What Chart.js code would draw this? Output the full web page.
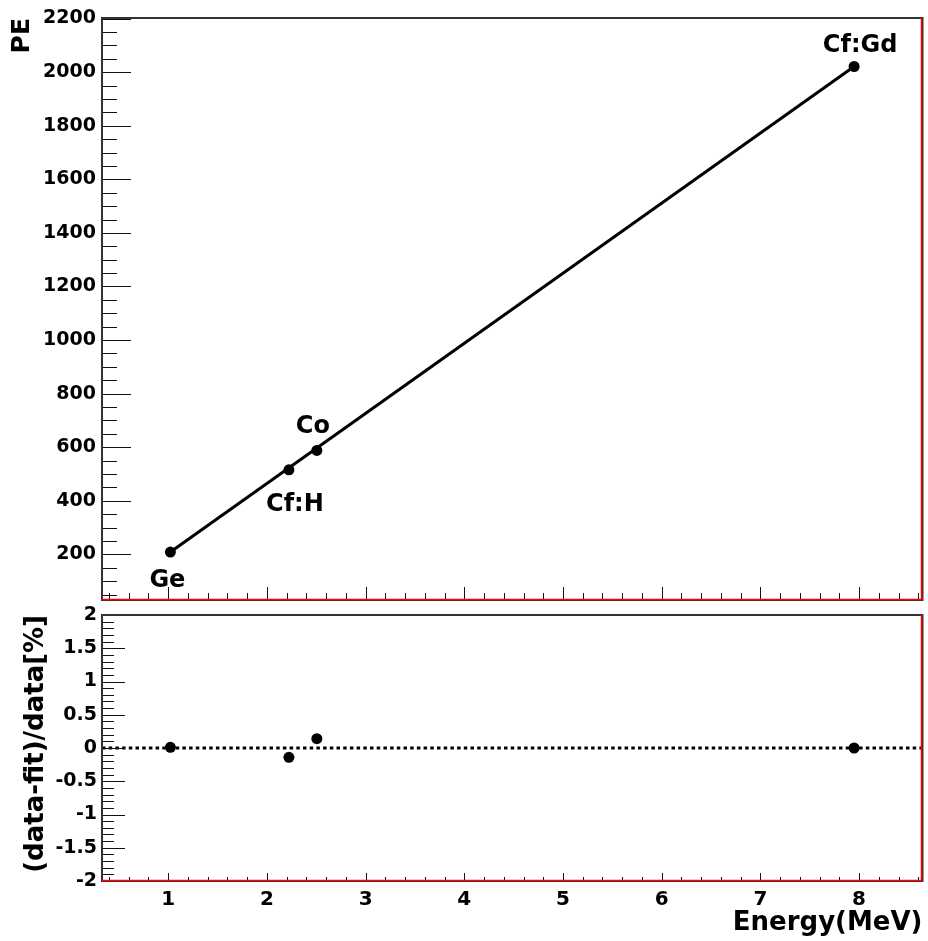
<!DOCTYPE html>
<html>
<head>
<meta charset="utf-8">
<script src="https://cdn.jsdelivr.net/npm/chart.js@4.4.0/dist/chart.umd.min.js"></script>
<style>
  body { margin: 0; background: #fff; }
  #wrap { position: relative; width: 928px; height: 941px; }
  .pane { position: absolute; left: 0; width: 928px; }
  #top { top: 0; height: 606px; }
  #bottom { top: 590px; height: 351px; }
</style>
</head>
<body>
<div id="wrap">
  <div class="pane" id="top"><canvas id="peChart"></canvas></div>
  <div class="pane" id="bottom"><canvas id="resChart"></canvas></div>
</div>
<script>
// calibration sources
const sources = ['Ge', 'Cf:H', 'Co', 'Cf:Gd'];
const energy = [1.022, 2.223, 2.506, 7.95];     // MeV
const pe = [209, 516, 588, 2021];
const residual = [0.01, -0.14, 0.14, 0.0];      // (data-fit)/data in %

// linear fit, end points
const fitEnergy = [1.022, 7.95];
const fitPE = [209, 2021];

// zero reference line of the residual pad
const zeroEnergy = [0.329, 8.643];
const zeroRes = [0, 0];

const energyRange = [0.329, 8.643];
const peRange = [30, 2202];
const resRange = [-2, 2];

const energyTicks = [1, 2, 3, 4, 5, 6, 7, 8];
const peTicks = [200, 400, 600, 800, 1000, 1200, 1400, 1600, 1800, 2000, 2200];
const resTicks = [-2, -1.5, -1, -0.5, 0, 0.5, 1, 1.5, 2];

Chart.defaults.font.family = '"DejaVu Sans", sans-serif';
Chart.defaults.font.weight = 'bold';
Chart.defaults.color = '#000';

const pts = (xs, ys) => xs.map((v, i) => ({x: v, y: ys[i]}));

// ROOT style frame: inward ticks, dark frame, red bottom/right edge
const rootFrame = {
  id: 'rootFrame',
  afterDatasetsDraw(chart, args, o) {
    const {ctx, chartArea: a, scales: {x, y}} = chart;
    ctx.save();
    ctx.strokeStyle = '#111';
    ctx.lineWidth = 1;
    ctx.beginPath();
    let i0 = Math.ceil(x.min / o.xStep - 1e-6);
    for (let i = i0; i * o.xStep <= x.max + 1e-9; i++) {
      const px = Math.round(x.getPixelForValue(i * o.xStep)) + 0.5;
      const len = i % o.xPer === 0 ? o.xMajor : o.xMinor;
      ctx.moveTo(px, a.bottom);
      ctx.lineTo(px, a.bottom - len);
    }
    i0 = Math.ceil(y.min / o.yStep - 1e-6);
    for (let i = i0; i * o.yStep <= y.max + 1e-9; i++) {
      const py = Math.round(y.getPixelForValue(i * o.yStep)) + 0.5;
      const len = i % o.yPer === 0 ? o.yMajor : o.yMinor;
      ctx.moveTo(a.left, py);
      ctx.lineTo(a.left + len, py);
    }
    ctx.stroke();
    ctx.strokeStyle = '#333';
    ctx.lineWidth = 2;
    ctx.strokeRect(a.left, a.top, a.right - a.left, a.bottom - a.top);
    ctx.strokeStyle = '#f00';
    ctx.lineWidth = 1.5;
    ctx.beginPath();
    ctx.moveTo(a.left, a.bottom - 0.5);
    ctx.lineTo(a.right - 1, a.bottom - 0.5);
    ctx.lineTo(a.right - 1, a.top);
    ctx.stroke();
    ctx.restore();
  }
};

// source names next to the points
const labelOffsets = [[-3, 35], [6, 41], [-4, -17], [6, -15]];
const sourceLabels = {
  id: 'sourceLabels',
  afterDatasetsDraw(chart) {
    const {ctx, scales: {x, y}} = chart;
    ctx.save();
    ctx.font = 'bold 24px "DejaVu Sans"';
    ctx.fillStyle = '#000';
    ctx.textAlign = 'center';
    ctx.textBaseline = 'alphabetic';
    sources.forEach((s, i) => {
      const px = x.getPixelForValue(energy[i]);
      const py = y.getPixelForValue(pe[i]);
      ctx.fillText(s, px + labelOffsets[i][0], py + labelOffsets[i][1]);
    });
    ctx.restore();
  }
};

const noGrid = {display: false, drawTicks: false};

new Chart(document.getElementById('peChart'), {
  type: 'scatter',
  data: {
    datasets: [
      {
        label: 'data',
        data: pts(energy, pe),
        pointRadius: 5.5,
        pointBackgroundColor: '#000',
        pointBorderWidth: 0
      },
      {
        label: 'fit',
        data: pts(fitEnergy, fitPE),
        showLine: true,
        borderColor: '#000',
        borderWidth: 3,
        pointRadius: 0
      }
    ]
  },
  options: {
    responsive: true,
    maintainAspectRatio: false,
    animation: false,
    layout: {padding: {top: 18, right: 2, left: 0, bottom: 0}},
    plugins: {
      legend: {display: false},
      tooltip: {enabled: false},
      rootFrame: {xStep: 0.2, xPer: 5, xMajor: 13, xMinor: 7, yStep: 50, yPer: 4, yMajor: 29, yMinor: 15}
    },
    scales: {
      x: {
        type: 'linear',
        min: energyRange[0],
        max: energyRange[1],
        grid: noGrid,
        border: {display: false},
        ticks: {display: false},
        afterFit: s => { s.height = 6; s.paddingLeft = 0; s.paddingRight = 0; }
      },
      y: {
        min: peRange[0],
        max: peRange[1],
        afterBuildTicks: s => { s.ticks = peTicks.map(v => ({value: v})); },
        grid: noGrid,
        border: {display: false},
        ticks: {font: {size: 19}, padding: 6, autoSkip: false, callback: v => String(v)},
        title: {display: true, text: 'PE', align: 'end', font: {size: 25}, padding: {top: 7, bottom: 0}},
        afterFit: s => { s.width = 102; s.paddingTop = 0; s.paddingBottom = 0; }
      }
    }
  },
  plugins: [rootFrame, sourceLabels]
});

new Chart(document.getElementById('resChart'), {
  type: 'scatter',
  data: {
    datasets: [
      {
        label: 'residual',
        data: pts(energy, residual),
        pointRadius: 5.5,
        pointBackgroundColor: '#000',
        pointBorderWidth: 0
      },
      {
        label: 'zero',
        data: pts(zeroEnergy, zeroRes),
        showLine: true,
        borderColor: '#000',
        borderWidth: 3,
        borderDash: [3.5, 3.2],
        pointRadius: 0
      }
    ]
  },
  options: {
    responsive: true,
    maintainAspectRatio: false,
    animation: false,
    layout: {padding: {top: 25, right: 2, left: 0, bottom: 0}},
    plugins: {
      legend: {display: false},
      tooltip: {enabled: false},
      rootFrame: {xStep: 0.2, xPer: 5, xMajor: 8, xMinor: 4, yStep: 0.1, yPer: 5, yMajor: 23, yMinor: 12}
    },
    scales: {
      x: {
        type: 'linear',
        min: energyRange[0],
        max: energyRange[1],
        afterBuildTicks: s => { s.ticks = energyTicks.map(v => ({value: v})); },
        grid: noGrid,
        border: {display: false},
        ticks: {font: {size: 20}, padding: 7, autoSkip: false, maxRotation: 0},
        title: {display: true, text: 'Energy(MeV)', align: 'end', font: {size: 26}, padding: {top: 0, bottom: 2}},
        afterFit: s => { s.height = 60; s.paddingLeft = 0; s.paddingRight = 0; }
      },
      y: {
        min: resRange[0],
        max: resRange[1],
        afterBuildTicks: s => { s.ticks = resTicks.map(v => ({value: v})); },
        grid: noGrid,
        border: {display: false},
        ticks: {font: {size: 19}, padding: 5, autoSkip: false, callback: v => String(v)},
        title: {display: true, text: '(data-fit)/data[%]', align: 'end', font: {size: 26}, padding: {top: 21, bottom: 0}},
        afterFit: s => { s.width = 102; s.paddingTop = 0; s.paddingBottom = 0; }
      }
    }
  },
  plugins: [rootFrame]
});
</script>
</body>
</html>
